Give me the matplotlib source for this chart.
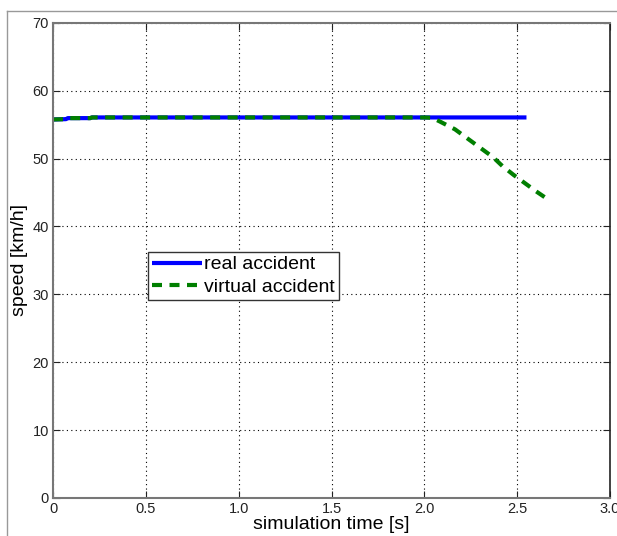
import matplotlib
matplotlib.use("Agg")
import matplotlib.pyplot as plt
from matplotlib.lines import Line2D

plt.rcParams['font.family'] = ['Liberation Sans', 'DejaVu Sans']

# data
t_real = [0.0, 0.07, 0.08, 0.20, 0.21, 2.55]
v_real = [55.75, 55.8, 55.95, 55.95, 56.05, 56.05]

t_virtual = [0.0, 0.07, 0.08, 0.20, 0.21, 2.0, 2.04, 2.08, 2.165, 2.245, 2.305,
             2.37, 2.42, 2.48, 2.54, 2.60, 2.67]
v_virtual = [55.75, 55.8, 55.95, 55.95, 56.05, 56.05, 56.0, 55.5, 54.3, 52.7, 51.5,
             50.2, 48.9, 47.6, 46.4, 45.2, 43.9]

x_ticks = [0, 0.5, 1.0, 1.5, 2.0, 2.5, 3.0]
x_labels = ['0', '0.5', '1.0', '1.5', '2.0', '2.5', '3.0']
y_ticks = [0, 10, 20, 30, 40, 50, 60, 70]

fig = plt.figure(figsize=(6.17, 5.36), dpi=100)
ax = fig.add_axes([0.0859, 0.0709, 0.9028, 0.8867])

ax.plot(t_real, v_real, color='#0000ff', lw=3, label='real accident', solid_capstyle='butt')
ax.plot(t_virtual, v_virtual, color='#007f00', lw=3, ls=(0, (2.4, 1.8)), label='virtual accident')

ax.set_xlim(0, 3.0)
ax.set_ylim(0, 70)
ax.set_xticks(x_ticks)
ax.set_xticklabels(x_labels)
ax.set_yticks(y_ticks)
ax.grid(True, color='black', ls=(0, (1, 3)), lw=0.8)
ax.tick_params(direction='in', length=5, top=True, right=True, labelsize=10.5,
               colors='#222222', pad=3)
for s in ['left', 'bottom', 'top']:
    ax.spines[s].set_color('#777777')
    ax.spines[s].set_linewidth(1.5)
ax.spines['right'].set_color('#222222')
ax.spines['right'].set_linewidth(1.2)

ax.set_xlabel('simulation time [s]', fontsize=14, labelpad=0)
ax.set_ylabel('speed [km/h]', fontsize=14, labelpad=3)

leg = ax.legend(loc='upper left', bbox_to_anchor=(0.170, 0.518), fontsize=14,
                frameon=True, fancybox=False, edgecolor='#333333', framealpha=1,
                borderpad=0.2, labelspacing=0.25, handlelength=2.6, handletextpad=0.1,
                borderaxespad=0)
leg.get_frame().set_linewidth(1.0)

# outer figure frame
fig.add_artist(Line2D([7/617, 7/617], [0, 1 - 11/536], transform=fig.transFigure,
                      color='#999999', lw=1))
fig.add_artist(Line2D([7/617, 1], [1 - 11/536, 1 - 11/536], transform=fig.transFigure,
                      color='#999999', lw=1))

fig.savefig('out.png', dpi=100)
